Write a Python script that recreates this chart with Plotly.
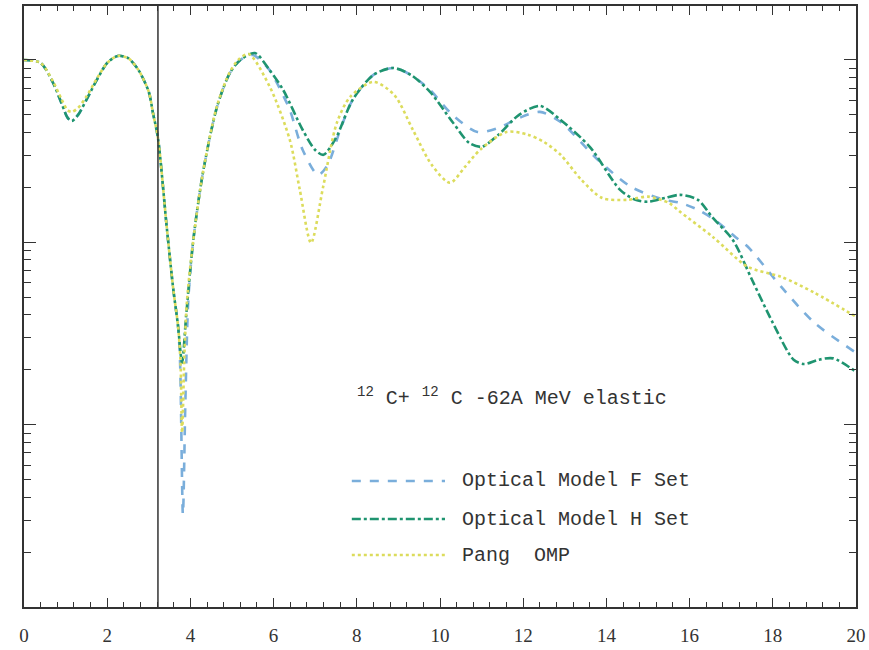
import plotly.graph_objects as go

# ---- data (angle in degrees, ratio to Rutherford / arbitrary log units) ----
x_F = [0.0, 0.4, 0.7, 0.9, 1.05, 1.15, 1.3, 1.5, 1.75, 2.0, 2.25, 2.5, 2.75, 3.0, 3.1, 3.22,
       3.43, 3.59, 3.7, 3.75, 3.82, 3.88, 3.95, 4.07, 4.3, 4.64, 4.95, 5.2, 5.5,
       5.9, 6.08, 6.39, 6.7, 7.07, 7.3, 7.6, 7.9, 8.4, 8.87, 9.3, 9.76, 10.3, 10.9,
       11.4, 11.9, 12.4, 12.9, 13.8, 14.6, 15.4, 15.77, 16.2, 16.6, 17.1, 17.4, 18.2, 19.0, 20.0]
y_F = [1.0, 0.963, 0.748, 0.581, 0.481, 0.463, 0.50, 0.604, 0.777, 0.963, 1.052, 1.025, 0.882, 0.668, 0.512, 0.374,
       0.122, 0.0549, 0.0353, 0.0227, 0.00321, 0.0137, 0.0484, 0.103, 0.240, 0.553, 0.849, 1.0, 1.065,
       0.882, 0.748, 0.532, 0.321, 0.234, 0.266, 0.413, 0.604, 0.828, 0.904, 0.828, 0.685, 0.50, 0.403,
       0.424, 0.481, 0.519, 0.457, 0.283, 0.201, 0.171, 0.1646, 0.151, 0.133, 0.107, 0.0945, 0.0571, 0.0362, 0.0248]

x_H = [0.0, 0.4, 0.7, 0.9, 1.05, 1.15, 1.3, 1.5, 1.75, 2.0, 2.25, 2.5, 2.75, 3.0, 3.1, 3.22,
       3.43, 3.59, 3.7, 3.8, 3.9, 4.07, 4.3, 4.64, 4.95, 5.2, 5.55,
       5.9, 6.23, 6.7, 7.0, 7.2, 7.5, 7.9, 8.4, 8.87, 9.3, 9.76, 10.3, 10.7, 11.0,
       11.4, 11.9, 12.4, 12.9, 13.6, 14.33, 14.7, 15.0, 15.4, 15.77, 16.2, 16.56, 17.04,
       17.5, 18.0, 18.5, 18.75, 19.1, 19.45, 20.0]
y_H = [1.0, 0.963, 0.748, 0.581, 0.481, 0.463, 0.50, 0.604, 0.777, 0.963, 1.052, 1.025, 0.882, 0.668, 0.512, 0.374,
       0.122, 0.0549, 0.0353, 0.0219, 0.0401, 0.103, 0.240, 0.553, 0.849, 1.0, 1.092,
       0.882, 0.685, 0.413, 0.321, 0.302, 0.374, 0.604, 0.828, 0.904, 0.828, 0.668, 0.457, 0.351, 0.334,
       0.388, 0.50, 0.560, 0.469, 0.334, 0.194, 0.171, 0.167, 0.175, 0.182, 0.171, 0.136, 0.103,
       0.0623, 0.0362, 0.0227, 0.0215, 0.0227, 0.0231, 0.0195]

x_P = [0.0, 0.4, 0.7, 0.9, 1.05, 1.15, 1.3, 1.5, 1.75, 2.0, 2.25, 2.5, 2.75, 3.0, 3.1, 3.22,
       3.43, 3.59, 3.7, 3.76, 3.8, 3.86, 3.92, 4.07, 4.3, 4.64, 4.95, 5.15, 5.4,
       5.91, 6.39, 6.63, 6.9, 7.19, 7.52, 7.84, 8.4, 8.9, 9.35, 9.8, 10.24, 10.6, 10.96,
       11.6, 12.1, 12.5, 12.9, 13.4, 13.9, 14.5, 15.0, 15.5, 15.77, 16.56, 17.4, 18.2, 19.0, 20.0]
y_P = [1.0, 0.963, 0.760, 0.610, 0.530, 0.519, 0.546, 0.630, 0.790, 0.963, 1.052, 1.025, 0.882, 0.668, 0.512, 0.374,
       0.122, 0.0549, 0.0353, 0.0227, 0.00904, 0.0258, 0.0484, 0.103, 0.240, 0.560, 0.860, 1.0, 1.079,
       0.711, 0.364, 0.194, 0.0994, 0.201, 0.452, 0.627, 0.758, 0.643, 0.413, 0.266, 0.212, 0.259, 0.321,
       0.403, 0.390, 0.355, 0.302, 0.220, 0.175, 0.171, 0.178, 0.1646, 0.147, 0.107, 0.0734, 0.0647, 0.0529, 0.0391]

series_names = ["Optical Model F Set", "Optical Model H Set", "Pang  OMP"]
series_colors = ["#7aaedb", "#1f9470", "#dcdc5c"]
series_dash = ["dash", "dashdot", "dot"]
x_ticks = [0, 2, 4, 6, 8, 10, 12, 14, 16, 18, 20]
vline_x = 3.22
title_text = "<sup>12</sup> C+ <sup>12</sup> C -62A MeV elastic"

FONT = "Liberation Mono"
fig = go.Figure()
for xs, ys, name, col, dsh in zip([x_F, x_H, x_P], [y_F, y_H, y_P], series_names, series_colors, series_dash):
    fig.add_trace(go.Scatter(x=xs, y=ys, mode="lines", name=name,
                             line=dict(color=col, width=2.6, dash=dsh, shape="spline", smoothing=0.8),
                             showlegend=False))

# vertical marker line
fig.add_shape(type="line", xref="x", yref="paper", x0=vline_x, x1=vline_x, y0=0, y1=1,
              line=dict(color="#333333", width=1.5))

# manual legend (long sample lines like the original)
leg_y = [0.2097, 0.1464, 0.0865]
for yy, name, col, dsh in zip(leg_y, series_names, series_colors, series_dash):
    fig.add_shape(type="line", xref="paper", yref="paper", x0=0.394, x1=0.506, y0=yy, y1=yy,
                  line=dict(color=col, width=2.6, dash=dsh))
    fig.add_annotation(xref="paper", yref="paper", x=0.524, y=yy, text=name, showarrow=False,
                       xanchor="left", yanchor="middle", font=dict(family=FONT, size=20, color="#333333"))

fig.add_annotation(xref="paper", yref="paper", x=0.398, y=0.349, text=title_text, showarrow=False,
                   xanchor="left", yanchor="middle", font=dict(family=FONT, size=20, color="#333333"))

fig.update_layout(
    width=869, height=650,
    margin=dict(l=24, r=13, t=6, b=43),
    paper_bgcolor="white", plot_bgcolor="white",
    font=dict(family="Liberation Serif", color="#333333"),
)
fig.update_xaxes(range=[0, 20], tickvals=x_ticks, ticktext=[str(v) for v in x_ticks],
                 ticks="inside", ticklen=9, tickwidth=1.3, tickcolor="#333333",
                 minor=dict(dtick=0.4, ticks="inside", ticklen=5, tickwidth=1, tickcolor="#333333"),
                 showline=True, linecolor="#333333", linewidth=2, mirror="ticks",
                 showgrid=False, zeroline=False, ticklabelstandoff=10, automargin=False,
                 tickfont=dict(family="Liberation Serif", size=19, color="#333333"))
fig.update_yaxes(type="log", range=[-3, 0.296], dtick=1, showticklabels=False,
                 ticks="inside", ticklen=12, tickwidth=1.3, tickcolor="#333333",
                 minor=dict(dtick="D1", ticks="inside", ticklen=7, tickwidth=1, tickcolor="#333333"),
                 showline=True, linecolor="#333333", linewidth=2, mirror="ticks",
                 showgrid=False, zeroline=False, automargin=False)

fig.write_html("out.html")
